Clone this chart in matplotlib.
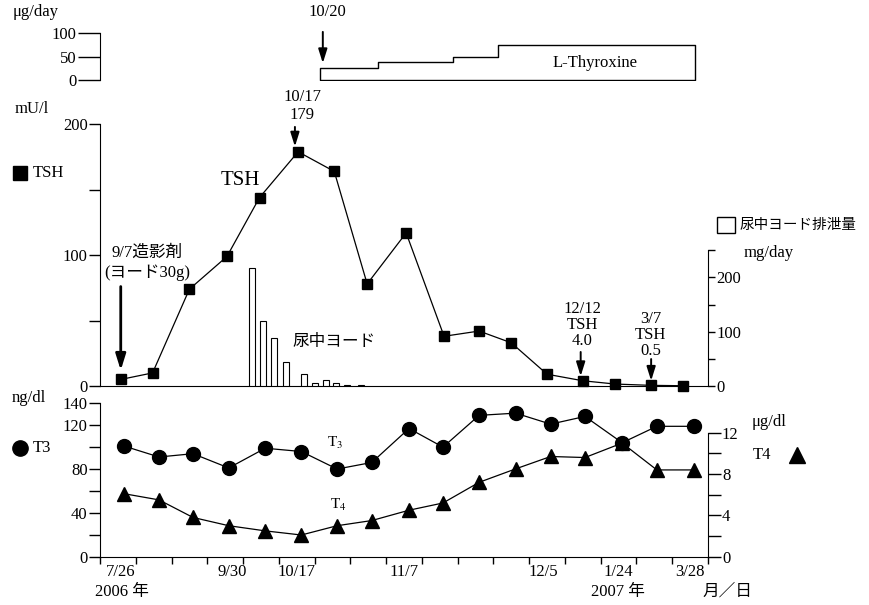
import matplotlib.pyplot as plt
from matplotlib.lines import Line2D
from matplotlib.patches import Rectangle

plt.rcParams['font.family'] = ['Liberation Serif', 'Noto Sans CJK JP']
plt.rcParams['mathtext.fontset'] = 'stix'
plt.rcParams['font.size'] = 12

# TSH (mU/l) per visit, x in visit-interval units
tsh_x = [0.58, 1.47, 2.5, 3.55, 4.46, 5.54, 6.55, 7.47, 8.56, 9.62, 10.6, 11.5, 12.5, 13.5, 14.4, 15.4, 16.3]
tsh = [5, 10, 74, 99, 144, 179, 164, 78, 117, 38, 42, 33, 9, 4.0, 1.5, 0.5, 0.2]

# T3 (ng/dl) and T4 (ug/dl)
thy_x = [0.67, 1.65, 2.6, 3.6, 4.62, 5.63, 6.63, 7.6, 8.64, 9.59, 10.6, 11.62, 12.6, 13.56, 14.6, 15.57, 16.62]
t3 = [101, 91, 94, 81, 99, 96, 80, 86, 117, 100, 129, 131, 121, 128, 104, 119, 119]
t4 = [6.1, 5.5, 3.8, 3.0, 2.5, 2.1, 3.0, 3.5, 4.5, 5.2, 7.2, 8.5, 9.7, 9.6, 11.0, 8.4, 8.4]

# urinary iodine excretion (mg/day)
iodine_x = [4.24, 4.55, 4.86, 5.2, 5.7, 6.0, 6.33, 6.6, 6.9, 7.3]
iodine = [217, 120, 89, 44, 22, 5, 11, 5, 1.5, 1.5]

# L-thyroxine dose steps (ug/day)
dose_edges = [6.16, 7.78, 9.87, 11.14, 16.64]
dose = [25, 37.5, 50, 75]

date_x = [0.58, 3.7, 5.5, 8.5, 12.4, 14.5, 16.5]
date_labels = ['7/26', '9/30', '10/17', '11/7', '12/5', '1/24', '3/28']

W, H = 869, 605
fig = plt.figure(figsize=(W / 100, H / 100), dpi=100)


def box(x0, y0, x1, y1):
    return [x0 / W, 1 - y1 / H, (x1 - x0) / W, (y1 - y0) / H]


def ftext(x, y, s, **kw):
    kw.setdefault('va', 'center')
    fig.text(x / W, 1 - y / H, s, **kw)


def fmark(x, y, **kw):
    fig.add_artist(Line2D([x / W], [1 - y / H], transform=fig.transFigure, color='black', **kw))


arrow = dict(arrowstyle='-|>,head_length=0.7,head_width=0.22', color='black', lw=1.4, shrinkA=0, shrinkB=0)

# --- L-thyroxine panel ---
ax_dose = fig.add_axes(box(100, 33.3, 708, 80))
ax_dose.fill_between(dose_edges, dose + [dose[-1]], step='post', facecolor='white', edgecolor='black', lw=1)
ax_dose.set_xlim(0, 17)
ax_dose.set_ylim(0, 100)
for s in ['top', 'right', 'bottom']:
    ax_dose.spines[s].set_visible(False)
ax_dose.spines['left'].set_bounds(0, 100)
ax_dose.set_xticks([])
ax_dose.set_yticks([0, 50, 100])
ax_dose.tick_params(axis='y', direction='out', length=16, width=1, pad=1)
ax_dose.text(13.84, 36, 'L-Thyroxine', ha='center', va='center')
ax_dose.text(6.35, 146, '10/20', ha='center', va='center', clip_on=False)
ax_dose.annotate('', xy=(6.23, 36), xytext=(6.23, 103), arrowprops=arrow, annotation_clip=False)

# --- TSH panel ---
ax_tsh = fig.add_axes(box(100, 124.3, 708, 386))
ax_tsh.plot(tsh_x, tsh, '-', color='black', lw=0.9, marker='s', ms=7.5, clip_on=False, zorder=3)
ax_tsh.set_xlim(0, 17)
ax_tsh.set_ylim(0, 200)
for s in ['top', 'right']:
    ax_tsh.spines[s].set_visible(False)
ax_tsh.spines['left'].set_bounds(0, 200)
ax_tsh.set_xticks([])
ax_tsh.set_yticks([0, 50, 100, 150, 200], ['0', '', '100', '', '200'])
ax_tsh.tick_params(axis='y', direction='out', length=8, width=1, pad=1)

ax_iod = ax_tsh.twinx()
ax_iod.bar(iodine_x, iodine, width=0.17, facecolor='white', edgecolor='black', lw=0.8)
ax_iod.set_ylim(0, 482)
for s in ['top', 'left', 'bottom']:
    ax_iod.spines[s].set_visible(False)
ax_iod.spines['right'].set_bounds(0, 250)
ax_iod.set_yticks([0, 50, 100, 150, 200, 250], ['0', '', '100', '', '200', ''])
ax_iod.tick_params(axis='y', direction='out', length=5, width=1, pad=1)

ax_tsh.text(5.65, 214, '10/17\n179', ha='center', va='center', linespacing=1.15, clip_on=False)
ax_tsh.annotate('', xy=(5.45, 183), xytext=(5.45, 198), arrowprops=arrow, annotation_clip=False)
ax_tsh.text(3.92, 157, 'TSH', ha='center', va='center', fontsize=15)
ax_tsh.text(1.31, 101.5, '9/7造影剤', ha='center', va='center')
ax_tsh.text(1.31, 86.4, '(ヨード30g)', ha='center', va='center')
ax_tsh.annotate('', xy=(0.58, 12), xytext=(0.58, 76),
                arrowprops=dict(arrow, lw=2.0, arrowstyle='-|>,head_length=0.8,head_width=0.25'))
ax_tsh.text(6.54, 34, '尿中ヨード', ha='center', va='center', fontsize=12)
ax_tsh.text(13.48, 47, '12/12\nTSH\n4.0', ha='center', va='center', linespacing=1.0)
ax_tsh.annotate('', xy=(13.44, 7.5), xytext=(13.44, 26), arrowprops=arrow)
ax_tsh.text(15.4, 39, '3/7\nTSH\n0.5', ha='center', va='center', linespacing=1.0)
ax_tsh.annotate('', xy=(15.41, 4), xytext=(15.41, 20.6), arrowprops=arrow)

# --- T3 / T4 panel ---
ax_thy = fig.add_axes(box(100, 403.3, 708, 556.7))
ax_thy.plot(thy_x, t3, '-', color='black', lw=0.9, marker='o', ms=10, zorder=3)
ax_thy.set_xlim(0, 17)
ax_thy.set_ylim(0, 140)
for s in ['top', 'right']:
    ax_thy.spines[s].set_visible(False)
ax_thy.set_yticks(range(0, 141, 20), ['0', '', '40', '', '80', '', '120', '140'])
ax_thy.tick_params(axis='y', direction='out', length=8, width=1, pad=1)
ax_thy.set_xticks(range(18), [''] * 18)
ax_thy.set_xticks(date_x, date_labels, minor=True)
ax_thy.tick_params(axis='x', which='major', direction='out', length=5, width=1)
ax_thy.tick_params(axis='x', which='minor', length=0, pad=5)

ax_t4 = ax_thy.twinx()
ax_t4.plot(thy_x, t4, '-', color='black', lw=0.9, marker='^', ms=10, zorder=3)
ax_t4.set_ylim(0, 14.85)
for s in ['top', 'left', 'bottom']:
    ax_t4.spines[s].set_visible(False)
ax_t4.spines['right'].set_bounds(0, 12)
ax_t4.set_yticks(range(0, 13, 2), ['0', '', '4', '', '8', '', '12'])
ax_t4.tick_params(axis='y', direction='out', length=9, width=1, pad=1)

ax_thy.text(6.57, 104, r'T$_3$', ha='center', va='center', fontsize=11)
ax_thy.text(6.66, 47, r'T$_4$', ha='center', va='center', fontsize=11)

# --- free labels and legends ---
ftext(13, 11.7, 'μg/day')
ftext(15, 109, 'mU/l')
fmark(20, 172.7, marker='s', ms=10)
ftext(33, 172.7, 'TSH')
fig.add_artist(Rectangle((716.7 / W, 1 - 233 / H), 18.3 / W, 16 / H, transform=fig.transFigure,
                         fill=False, lw=1, color='black'))
ftext(740, 225, '尿中ヨード排泄量', fontsize=10.5)
ftext(769, 253, 'mg/day', ha='center')
ftext(12, 398.3, 'ng/dl')
fmark(20, 448.3, marker='o', ms=11)
ftext(33, 448.3, 'T3')
ftext(752, 421.7, 'μg/dl')
ftext(753, 455, 'T4')
fmark(796.7, 455, marker='^', ms=11)
ftext(122, 591.7, '2006 年', ha='center')
ftext(618, 591.7, '2007 年', ha='center')
ftext(727, 591.7, '月／日', ha='center')

fig.savefig('out.png', dpi=100)
